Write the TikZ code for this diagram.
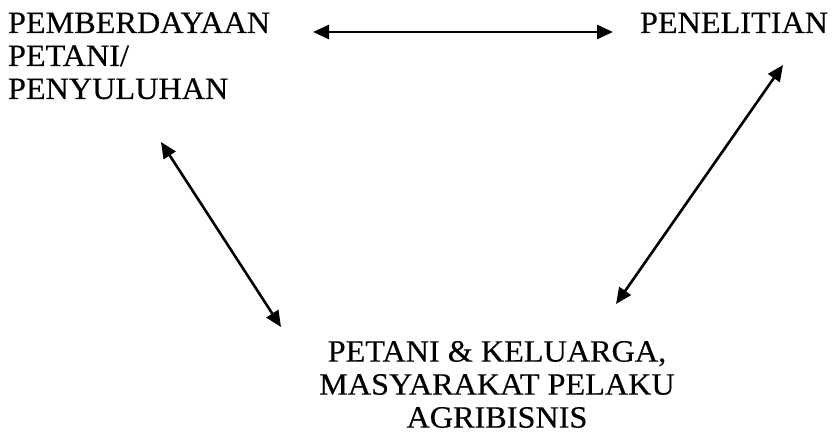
\documentclass[tikz,border=0pt]{standalone}
\usepackage{fontspec}
\setmainfont[FakeStretch=1.04,FakeBold=0.4]{Liberation Serif}
\usetikzlibrary{arrows.meta}
\tikzset{
  lbl/.style={inner sep=0pt, outer sep=0pt, font={\fontsize{31}{33}\selectfont}},
  link/.style={line width=2.6pt, {Triangle[length=16pt,width=14pt]}-{Triangle[length=16pt,width=14pt]}}
}
\begin{document}
\begin{tikzpicture}[x=1pt,y=-1pt]
\useasboundingbox (0,0) rectangle (832,435);
\node[lbl, anchor=north west, align=left] (pem) at (8,12.5) {PEMBERDAYAAN\\PETANI/\\PENYULUHAN};
\node[lbl, anchor=north east] (pen) at (828,12.5) {PENELITIAN};
\node[lbl, anchor=north, align=center] (pet) at (497,341) {PETANI \& KELUARGA,\\MASYARAKAT PELAKU\\AGRIBISNIS};
\coordinate (pemE) at (313,32);
\coordinate (penW) at (613,32);
\coordinate (pemS) at (161,142);
\coordinate (petNW) at (281,327);
\coordinate (penS) at (783,65);
\coordinate (petNE) at (616,304);
\draw[link] (pemE) -- (penW);
\draw[link] (pemS) -- (petNW);
\draw[link] (penS) -- (petNE);
\end{tikzpicture}
\end{document}
